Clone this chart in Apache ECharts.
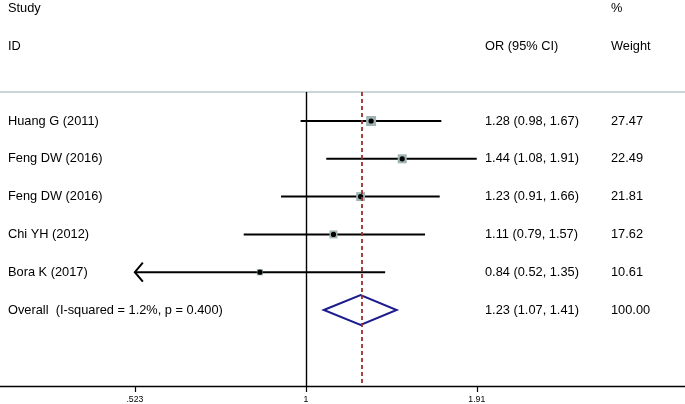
<!DOCTYPE html>
<html>
<head>
<meta charset="utf-8">
<script src="https://cdn.jsdelivr.net/npm/echarts@6/dist/echarts.min.js"></script>
<style>
html,body{margin:0;padding:0;background:#fff;}
#chart{width:685px;height:404px;}
</style>
</head>
<body>
<div id="chart"></div>
<script>
// ---- data ----
const studies = ['Huang G (2011)', 'Feng DW (2016)', 'Feng DW (2016)', 'Chi YH (2012)', 'Bora K (2017)'];
const orValues = [1.28, 1.44, 1.23, 1.11, 0.84];
const ciLower = [0.98, 1.08, 0.91, 0.79, 0.52];
const ciUpper = [1.67, 1.91, 1.66, 1.57, 1.35];
const weights = ['27.47', '22.49', '21.81', '17.62', '10.61'];
const overallLabel = 'Overall  (I-squared = 1.2%, p = 0.400)';
const overallOR = 1.23;
const overallLower = 1.07;
const overallUpper = 1.41;
const overallWeight = '100.00';
const tickValues = [0.523, 1, 1.91];
const tickLabels = ['.523', '1', '1.91'];
const headers = { study: 'Study', id: 'ID', or: 'OR (95% CI)', pct: '%', weight: 'Weight' };

// ---- build ----
const FONT = '"Liberation Sans", Arial, sans-serif';
const TEXT_SIZE = 12.8;
const fmt = v => v.toFixed(2);
const studyData = studies.map((s, i) => [i + 1, orValues[i], ciLower[i], ciUpper[i], parseFloat(weights[i]), i]);
const overallRow = studies.length + 1;
const xMin = -1.159, xMax = 1.436;
const clipLow = Math.log(tickValues[0]);

const chart = echarts.init(document.getElementById('chart'), null, { renderer: 'canvas' });

function textEl(x, y, str) {
  return { type: 'text', x: x, y: y, style: { text: str, fill: '#000', font: TEXT_SIZE + 'px ' + FONT, verticalAlign: 'middle', align: 'left' } };
}

const option = {
  animation: false,
  textStyle: { fontFamily: FONT },
  grid: { left: 0, right: 0, top: 92, bottom: 18, outerBoundsMode: 'none', containLabel: false },
  xAxis: {
    type: 'value', min: xMin, max: xMax,
    axisLine: { show: true, onZero: false, lineStyle: { color: '#000', width: 1.4 } },
    axisTick: { show: true, length: 6, lineStyle: { color: '#000', width: 1.2 }, customValues: tickValues.map(Math.log) },
    axisLabel: {
      show: true, fontSize: 8.7, color: '#000', margin: 9, fontFamily: FONT,
      customValues: tickValues.map(Math.log),
      formatter: v => {
        let best = 0, bd = Infinity;
        tickValues.forEach((t, i) => { const d = Math.abs(Math.log(t) - v); if (d < bd) { bd = d; best = i; } });
        return tickLabels[best];
      }
    },
    splitLine: { show: false }
  },
  yAxis: { type: 'value', inverse: true, min: 0.233, max: 8.01, show: false },
  graphic: [
    { type: 'line', shape: { x1: 0, y1: 92, x2: 685, y2: 92 }, style: { stroke: '#b7caca', lineWidth: 1.5 } },
    textEl(8, 8, headers.study),
    textEl(8, 46, headers.id),
    textEl(485, 46, headers.or),
    textEl(611, 8, headers.pct),
    textEl(611, 46, headers.weight)
  ],
  series: [
    {
      type: 'line',
      data: [],
      z: 1,
      markLine: {
        silent: true, symbol: 'none', label: { show: false },
        data: [
          { xAxis: Math.log(1), lineStyle: { color: '#000', width: 1.4, type: 'solid' } },
          { xAxis: Math.log(overallOR), lineStyle: { color: '#9e2f2f', width: 1.8, type: [4, 3] } }
        ]
      }
    },
    {
      type: 'custom',
      data: studyData,
      clip: false,
      renderItem: (params, api) => {
        const row = api.value(0), o = api.value(1), lo = api.value(2), hi = api.value(3), w = api.value(4), idx = api.value(5);
        const loLog = Math.log(lo);
        const clipped = loLog < clipLow;
        const pLo = api.coord([clipped ? clipLow : loLog, row]);
        const pHi = api.coord([Math.log(hi), row]);
        const pO = api.coord([Math.log(o), row]);
        const y = pO[1];
        const side = 1.9 * Math.sqrt(w);
        const children = [
          { type: 'line', shape: { x1: pLo[0], y1: y, x2: pHi[0], y2: y }, style: { stroke: '#000', lineWidth: 2 } },
          { type: 'rect', shape: { x: pO[0] - side / 2, y: y - side / 2, width: side, height: side }, style: { fill: '#9fb3b3' } },
          { type: 'circle', shape: { cx: pO[0], cy: y, r: 2.6 }, style: { fill: '#000' } },
          textEl(8, y, studies[idx]),
          textEl(485, y, fmt(o) + ' (' + fmt(lo) + ', ' + fmt(hi) + ')'),
          textEl(611, y, weights[idx])
        ];
        if (clipped) {
          children.push({ type: 'polyline', shape: { points: [[pLo[0] + 8, y - 9.5], [pLo[0], y], [pLo[0] + 8, y + 9.5]] }, style: { stroke: '#000', lineWidth: 2, fill: null } });
        }
        return { type: 'group', children: children };
      },
      z: 3
    },
    {
      type: 'custom',
      data: [[overallRow, overallOR, overallLower, overallUpper]],
      clip: false,
      renderItem: (params, api) => {
        const row = api.value(0), o = api.value(1), lo = api.value(2), hi = api.value(3);
        const pLo = api.coord([Math.log(lo), row]);
        const pHi = api.coord([Math.log(hi), row]);
        const pO = api.coord([Math.log(o), row]);
        const y = pO[1];
        return {
          type: 'group',
          children: [
            { type: 'polygon', shape: { points: [[pLo[0], y], [pO[0], y - 15], [pHi[0], y], [pO[0], y + 15]] }, style: { stroke: '#1c1c8e', lineWidth: 2, fill: null }, z2: 10 },
            textEl(8, y, overallLabel),
            textEl(485, y, fmt(o) + ' (' + fmt(lo) + ', ' + fmt(hi) + ')'),
            textEl(611, y, overallWeight)
          ]
        };
      },
      z: 4
    }
  ]
};
chart.setOption(option);
</script>
</body>
</html>
